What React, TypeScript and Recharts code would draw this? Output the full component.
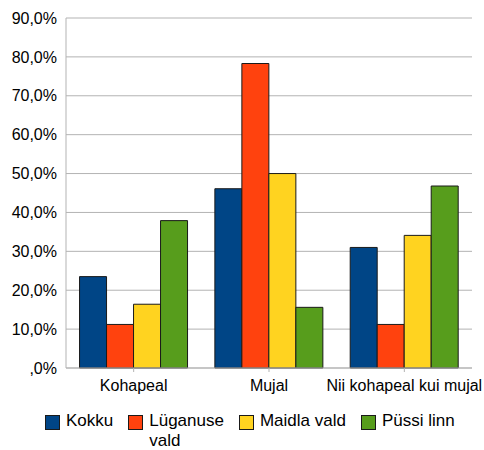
import React from 'react';
import { BarChart, Bar, XAxis, YAxis, CartesianGrid, Legend } from 'recharts';

const categories = ['Kohapeal', 'Mujal', 'Nii kohapeal kui mujal'];
const kokku = [23.5, 46.1, 31.0];
const luganuse = [11.2, 78.3, 11.2];
const maidla = [16.4, 50.0, 34.1];
const pussi = [37.9, 15.6, 46.8];
const yTicks = [0, 10, 20, 30, 40, 50, 60, 70, 80, 90];

const seriesKeys = ['kokku', 'luganuse', 'maidla', 'pussi'];
const seriesNames = ['Kokku', 'Lüganuse vald', 'Maidla vald', 'Püssi linn'];
const seriesColors = ['#004586', '#ff420e', '#ffd320', '#579d1c'];

const data = categories.map((c, i) => ({
  name: c,
  kokku: kokku[i],
  luganuse: luganuse[i],
  maidla: maidla[i],
  pussi: pussi[i],
}));

const FONT = '"Liberation Sans", Arial, sans-serif';

const fmt = (v: number) => {
  let s = v.toFixed(1).replace('.', ',');
  if (s.startsWith('0,')) s = s.slice(1);
  return s + '%';
};

const legendLines = (n: string) => {
  const idx = n.lastIndexOf(' ');
  if (n.length > 12 && idx > 0) return [n.slice(0, idx), n.slice(idx + 1)];
  return [n];
};

const LegendContent = () => (
  <div
    style={{
      height: 52,
      width: 484,
      display: 'flex',
      flexWrap: 'nowrap',
      alignItems: 'flex-start',
      paddingLeft: 45,
      paddingTop: 13,
      boxSizing: 'border-box',
      fontFamily: FONT,
      fontSize: 17,
      lineHeight: '20px',
      color: '#000',
    }}
  >
    {seriesNames.map((n, i) => (
      <div key={n} style={{ display: 'flex', flex: 'none', alignItems: 'flex-start', marginRight: 15 }}>
        <div
          style={{
            width: 13,
            height: 13,
            marginTop: 4,
            marginRight: 6,
            background: seriesColors[i],
            border: '1px solid #1a1a1a',
            flex: 'none',
          }}
        />
        <div style={{ flex: 'none', whiteSpace: 'nowrap' }}>
          {legendLines(n).map((l) => (
            <div key={l}>{l}</div>
          ))}
        </div>
      </div>
    ))}
  </div>
);

export default function App() {
  return (
    <div style={{ position: 'absolute', left: 0, top: 0, width: 484, height: 450, background: '#fff' }}>
      <BarChart
        width={484}
        height={450}
        data={data}
        margin={{ top: 18, right: 12, left: 0, bottom: 0 }}
        barCategoryGap="10%"
        barGap={0}
      >
        <CartesianGrid vertical={false} stroke="#b3b3b3" />
        <XAxis
          dataKey="name"
          height={30}
          axisLine={{ stroke: '#b3b3b3' }}
          tickLine={{ stroke: '#b3b3b3' }}
          tickSize={4}
          tickMargin={8}
          tick={{ fill: '#000', fontSize: 16, fontFamily: FONT }}
          interval={0}
        />
        <YAxis
          width={66}
          domain={[0, 90]}
          ticks={yTicks}
          tickFormatter={fmt}
          axisLine={{ stroke: '#b3b3b3' }}
          tickLine={false}
          tickSize={0}
          tickMargin={9}
          tick={{ fill: '#000', fontSize: 16, fontFamily: FONT }}
          interval={0}
        />
        <YAxis
          yAxisId="right"
          orientation="right"
          width={0}
          domain={[0, 90]}
          tick={false}
          tickLine={false}
          axisLine={{ stroke: '#b3b3b3' }}
        />
        <Legend verticalAlign="bottom" content={<LegendContent />} />
        {seriesKeys.map((k, i) => (
          <Bar
            key={k}
            dataKey={k}
            name={seriesNames[i]}
            fill={seriesColors[i]}
            stroke="#1a1a1a"
            strokeWidth={1}
            isAnimationActive={false}
          />
        ))}
      </BarChart>
    </div>
  );
}
